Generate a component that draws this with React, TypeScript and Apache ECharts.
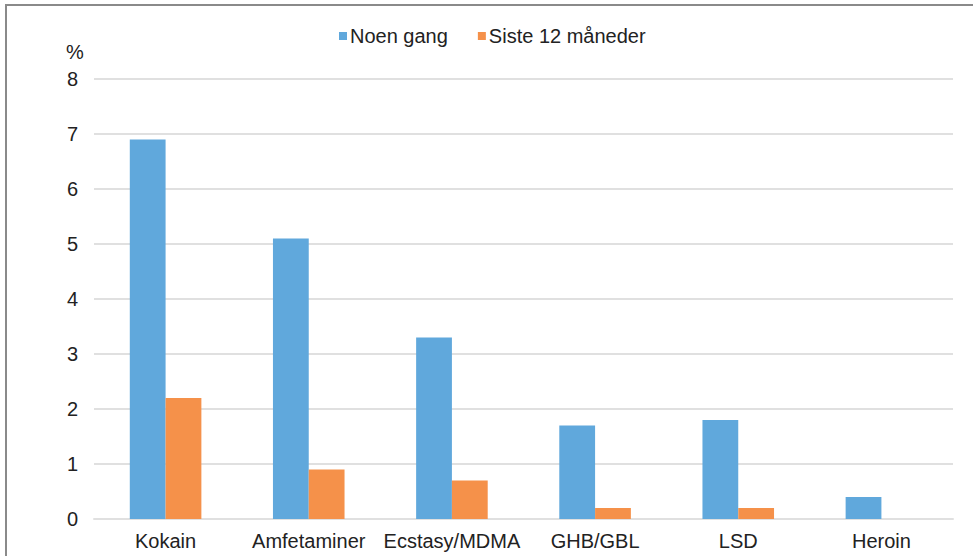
import React, { useEffect, useRef } from "react";
import * as echarts from "echarts";

const categories = ["Kokain", "Amfetaminer", "Ecstasy/MDMA", "GHB/GBL", "LSD", "Heroin"];
const seriesNames = ["Noen gang", "Siste 12 måneder"];
const noenGang = [6.9, 5.1, 3.3, 1.7, 1.8, 0.4];
const siste12 = [2.2, 0.9, 0.7, 0.2, 0.2, 0];
const yTicks = { min: 0, max: 8, interval: 1 };
const unitLabel = "%";

const FONT = "'Liberation Sans', Arial, sans-serif";

export default function App() {
  const ref = useRef<HTMLDivElement>(null);
  useEffect(() => {
    document.body.style.margin = "0";
    const chart = echarts.init(ref.current!, null, { renderer: "svg" });
    chart.setOption({
      animation: false,
      backgroundColor: "#ffffff",
      textStyle: { fontFamily: FONT },
      legend: {
        data: seriesNames,
        left: 334,
        top: 21,
        itemWidth: 8,
        itemHeight: 8,
        itemGap: 30,
        icon: "rect",
        textStyle: { fontSize: 20, color: "#222", fontFamily: FONT, padding: [0, 0, 0, -2] },
      },
      grid: { left: 94, right: 20, top: 79, bottom: 37, containLabel: false },
      xAxis: {
        type: "category",
        data: categories,
        axisLine: { show: true, lineStyle: { color: "#e0e0e0", width: 2 } },
        axisTick: { show: false },
        axisLabel: { fontSize: 20, color: "#222", margin: 12, fontFamily: FONT, interval: 0 },
      },
      yAxis: {
        type: "value",
        min: yTicks.min,
        max: yTicks.max,
        interval: yTicks.interval,
        axisLine: { show: false },
        axisTick: { show: false },
        axisLabel: { fontSize: 20, color: "#222", margin: 16, fontFamily: FONT },
        splitLine: { lineStyle: { color: "#e0e0e0", width: 2 } },
      },
      graphic: [
        {
          type: "line",
          shape: { x1: 6, y1: 5, x2: 973, y2: 5 },
          style: { stroke: "#8a8a8a", lineWidth: 2 },
        },
        {
          type: "line",
          shape: { x1: 6, y1: 4, x2: 6, y2: 556 },
          style: { stroke: "#8a8a8a", lineWidth: 2 },
        },
        {
          type: "text",
          left: 66,
          top: 42,
          style: { text: unitLabel, fontSize: 20, fill: "#222", fontFamily: FONT },
        },
      ],
      series: [
        {
          name: seriesNames[0],
          type: "bar",
          data: noenGang,
          barGap: "0%",
          barCategoryGap: "50%",
          itemStyle: { color: "#60A8DC" },
        },
        {
          name: seriesNames[1],
          type: "bar",
          data: siste12,
          itemStyle: { color: "#F5914A" },
        },
      ],
    });
    return () => chart.dispose();
  }, []);
  return (
    <div
      ref={ref}
      style={{ position: "fixed", left: 0, top: 0, width: 973, height: 556 }}
    />
  );
}
